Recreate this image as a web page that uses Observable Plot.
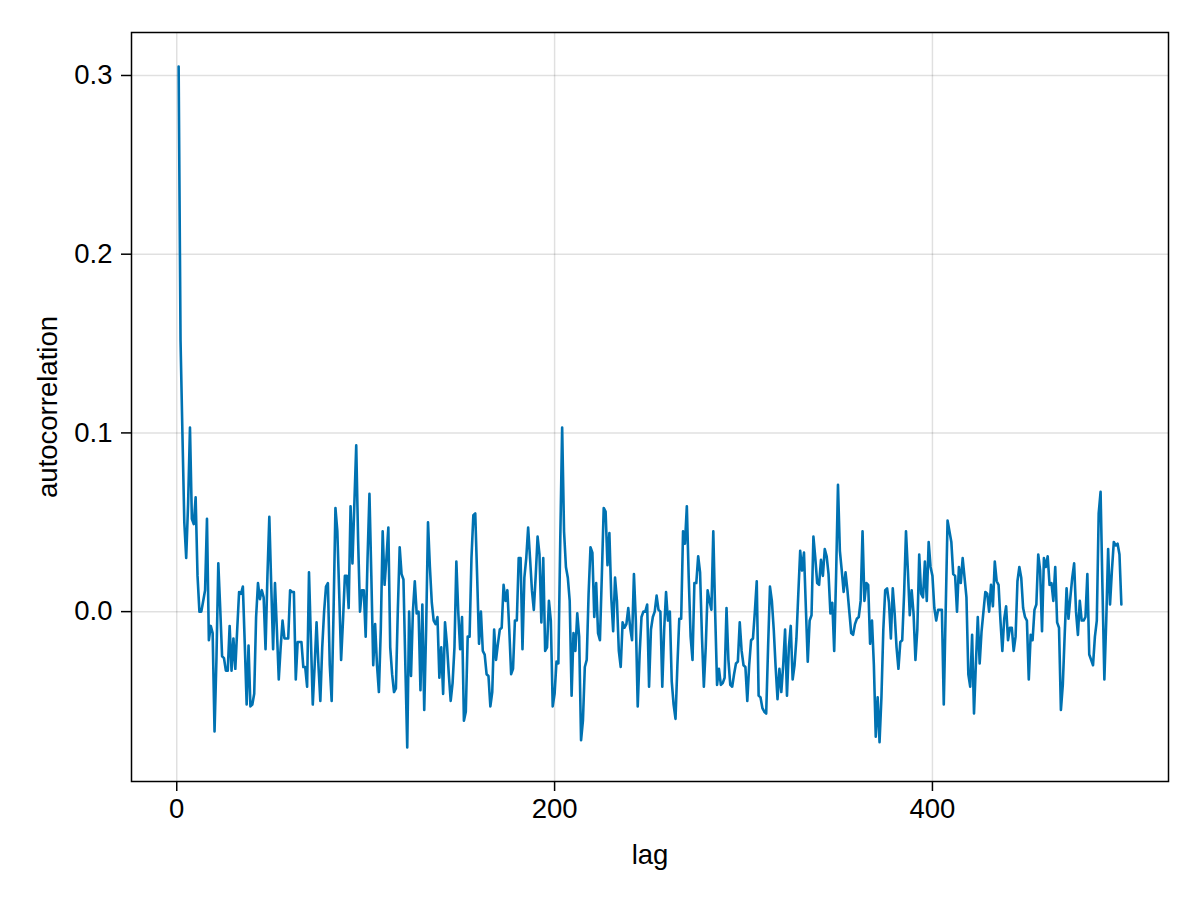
<!DOCTYPE html>
<html>
<head>
<meta charset="utf-8">
<script src="https://cdn.jsdelivr.net/npm/d3@7"></script>
<script src="https://cdn.jsdelivr.net/npm/@observablehq/plot@0.6"></script>
<style>
  html, body { margin: 0; padding: 0; background: #fff; }
  #chart { width: 1200px; height: 900px; }
</style>
</head>
<body>
<div id="chart"></div>
<script>
// Autocorrelation values, lags 1..500
const acfValues = [
  0.305, 0.152, 0.100, 0.050, 0.030, 0.060, 0.103, 0.052, 0.049, 0.064,
  0.020, 0.000, 0.000, 0.006, 0.012, 0.052, -0.016, -0.008, -0.012, -0.067,
  -0.027, 0.027, 0.002, -0.025, -0.026, -0.033, -0.033, -0.008, -0.033, -0.015,
  -0.032, -0.010, 0.011, 0.010, 0.014, -0.018, -0.052, -0.019, -0.053, -0.052,
  -0.046, -0.003, 0.016, 0.007, 0.012, 0.008, -0.021, 0.020, 0.053, 0.015,
  -0.021, 0.016, -0.010, -0.038, -0.020, -0.005, -0.015, -0.015, -0.015, 0.012,
  0.011, 0.011, -0.038, -0.017, -0.017, -0.017, -0.031, -0.031, -0.042, 0.022,
  -0.015, -0.052, -0.030, -0.006, -0.030, -0.050, -0.020, 0.000, 0.014, 0.016,
  -0.030, -0.050, 0.000, 0.058, 0.045, 0.010, -0.027, -0.005, 0.020, 0.020,
  0.002, 0.059, 0.027, 0.060, 0.093, 0.040, 0.000, 0.012, 0.012, -0.014,
  0.030, 0.066, 0.020, -0.030, -0.007, -0.030, -0.045, -0.010, 0.045, 0.015,
  0.030, 0.047, -0.020, -0.035, -0.045, -0.043, 0.000, 0.036, 0.021, 0.018,
  -0.030, -0.076, 0.000, -0.036, 0.000, 0.017, -0.001, 0.000, -0.044, 0.004,
  -0.055, -0.010, 0.050, 0.025, 0.005, -0.005, -0.007, -0.003, -0.037, -0.020,
  -0.046, -0.006, -0.018, -0.035, -0.050, -0.040, -0.020, 0.028, 0.000, -0.021,
  -0.003, -0.061, -0.056, -0.014, -0.014, 0.030, 0.054, 0.055, 0.020, -0.018,
  0.000, -0.022, -0.024, -0.035, -0.036, -0.053, -0.045, -0.010, -0.027, -0.018,
  -0.010, -0.009, 0.015, 0.006, 0.012, -0.010, -0.035, -0.032, -0.005, -0.005,
  0.030, 0.030, -0.021, 0.019, 0.030, 0.047, 0.030, 0.012, 0.001, 0.020,
  0.042, 0.032, -0.006, 0.030, -0.022, -0.020, 0.006, -0.005, -0.053, -0.046,
  -0.028, -0.029, 0.040, 0.103, 0.045, 0.025, 0.019, 0.006, -0.047, -0.012,
  -0.022, -0.001, -0.014, -0.072, -0.061, -0.031, -0.027, 0.010, 0.036, 0.033,
  -0.003, 0.016, -0.012, -0.016, 0.020, 0.058, 0.056, 0.026, 0.044, 0.008,
  -0.011, 0.019, 0.006, -0.022, -0.031, -0.006, -0.009, -0.007, 0.002, -0.009,
  -0.016, 0.021, -0.005, -0.053, -0.024, -0.003, 0.000, 0.000, 0.004, -0.042,
  -0.010, -0.003, 0.000, 0.009, 0.001, 0.000, -0.042, -0.010, 0.011, -0.005,
  0.000, -0.039, -0.052, -0.060, -0.030, -0.004, -0.004, 0.045, 0.038, 0.059,
  0.019, -0.014, -0.027, 0.016, 0.016, 0.031, 0.022, -0.014, -0.042, -0.020,
  0.012, 0.006, 0.001, 0.045, -0.001, -0.041, -0.032, -0.041, -0.040, -0.037,
  0.002, -0.027, -0.041, -0.042, -0.035, -0.029, -0.028, -0.006, -0.022, -0.030,
  -0.031, -0.050, -0.030, -0.016, -0.015, 0.000, 0.017, -0.047, -0.048, -0.054,
  -0.056, -0.057, -0.020, 0.014, 0.006, -0.010, -0.031, -0.049, -0.032, -0.045,
  -0.030, -0.010, -0.047, -0.020, -0.008, -0.038, -0.030, -0.015, 0.010, 0.034,
  0.023, 0.033, 0.002, -0.028, -0.005, -0.002, 0.042, 0.030, 0.016, 0.015,
  0.029, 0.020, 0.035, 0.031, 0.021, -0.001, 0.005, -0.022, 0.020, 0.071,
  0.034, 0.023, 0.011, 0.022, 0.012, 0.000, -0.012, -0.013, -0.007, -0.004,
  -0.003, 0.006, 0.045, 0.006, 0.016, 0.015, -0.018, -0.005, -0.030, -0.070,
  -0.048, -0.073, -0.048, -0.010, 0.012, 0.013, 0.005, -0.015, 0.013, -0.001,
  -0.020, -0.032, -0.017, -0.016, 0.010, 0.045, 0.023, -0.002, 0.012, -0.001,
  -0.027, -0.010, 0.032, 0.010, 0.008, 0.028, 0.006, 0.039, 0.025, 0.020,
  0.002, -0.005, 0.001, 0.001, 0.001, -0.052, 0.000, 0.051, 0.045, 0.039,
  0.021, 0.020, 0.000, 0.025, 0.016, 0.030, 0.019, 0.008, -0.035, -0.042,
  -0.013, -0.057, -0.029, -0.003, -0.029, -0.011, 0.000, 0.011, 0.010, 0.000,
  0.015, 0.003, 0.028, 0.017, 0.015, -0.005, -0.022, -0.004, 0.003, -0.016,
  -0.009, -0.009, -0.022, -0.014, 0.017, 0.025, 0.019, 0.002, -0.003, -0.005,
  -0.038, -0.013, -0.016, 0.001, 0.004, 0.032, 0.023, -0.011, 0.030, 0.025,
  0.031, 0.015, 0.016, 0.006, 0.025, -0.006, -0.009, -0.055, -0.041, -0.013,
  0.013, -0.004, 0.008, 0.019, 0.027, 0.000, -0.013, 0.006, -0.005, -0.005,
  -0.003, 0.021, -0.024, -0.027, -0.030, -0.014, -0.005, 0.055, 0.067, 0.013,
  -0.038, -0.005, 0.035, 0.004, 0.023, 0.039, 0.037, 0.038, 0.032, 0.004
];
const lags = acfValues.map((_, i) => i + 1);
const xTicks = [0, 200, 400];
const yTicks = [0.0, 0.1, 0.2, 0.3];
const xLabel = "lag";
const yLabel = "autocorrelation";

const data = lags.map((lag, i) => ({lag, acf: acfValues[i]}));

// Makie-style 5% padding around the data extent
const xmin = d3.min(lags), xmax = d3.max(lags);
const ymin = d3.min(acfValues), ymax = d3.max(acfValues);
const xpad = (xmax - xmin) * 0.05, ypad = (ymax - ymin) * 0.05;

const chart = Plot.plot({
  width: 1200,
  height: 900,
  marginLeft: 131,
  marginRight: 32,
  marginTop: 32,
  marginBottom: 119,
  style: {fontFamily: "'Liberation Sans', Arial, sans-serif", fontSize: "27.5px", color: "black", background: "white"},
  x: {domain: [xmin - xpad, xmax + xpad]},
  y: {domain: [ymin - ypad, ymax + ypad]},
  marks: [
    Plot.gridX(xTicks, {stroke: "black", strokeOpacity: 0.12, strokeWidth: 1.5}),
    Plot.gridY(yTicks, {stroke: "black", strokeOpacity: 0.12, strokeWidth: 1.5}),
    Plot.lineY(data, {x: "lag", y: "acf", stroke: "#0072B2", strokeWidth: 2.6}),
    Plot.frame({stroke: "black", strokeWidth: 1.5}),
    Plot.axisX(xTicks, {tickSize: 10, tickPadding: 7, tickFormat: d3.format("d"), fontSize: 27.5, strokeWidth: 1.5,
      label: xLabel, labelAnchor: "center", labelArrow: "none", labelOffset: 82}),
    Plot.axisY(yTicks, {tickSize: 10, tickPadding: 9, tickFormat: d3.format(".1f"), fontSize: 27.5, strokeWidth: 1.5,
      label: yLabel, labelAnchor: "center", labelArrow: "none", labelOffset: 94})
  ]
});
document.getElementById("chart").appendChild(chart);
</script>
</body>
</html>
